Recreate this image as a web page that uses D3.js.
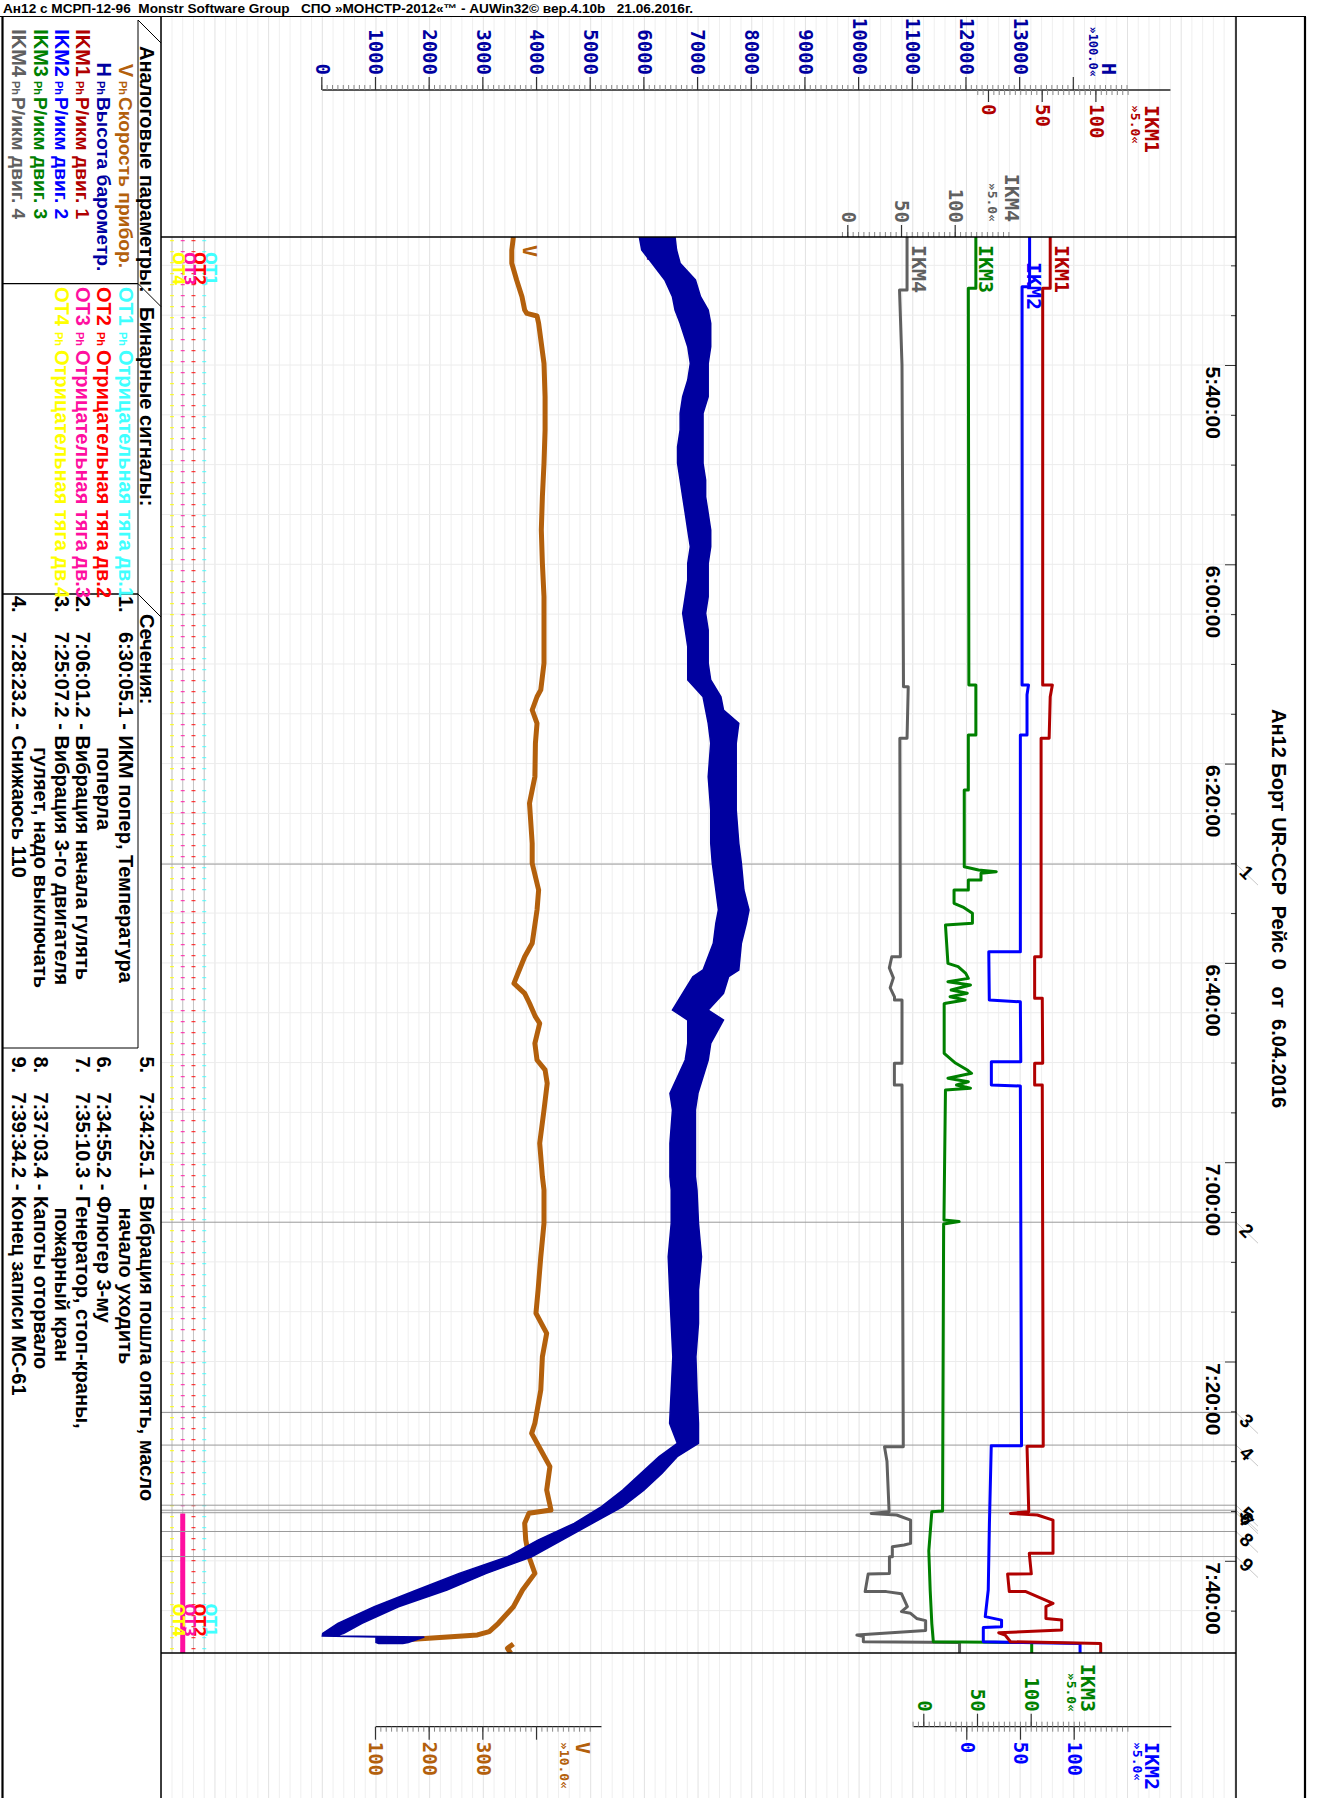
<!DOCTYPE html>
<html><head><meta charset="utf-8">
<script src="https://cdn.jsdelivr.net/npm/d3@7"></script>
<style>body{margin:0;background:#fff} svg{display:block} text{white-space:pre}</style>
</head><body><svg id="c" width="1319" height="1798"></svg>
<script>
// ---------------- DATA ----------------
const headerText = "Ан12 с МСРП-12-96  Monstr Software Group   СПО »МОНСТР-2012«™ - AUWin32© вер.4.10b   21.06.2016г.";
const titleText = "Ан12 Борт UR-CCP  Рейс 0   от  6.04.2016";
const timeWindow = ["5:27:09.3", "7:49:15"];
const timeTickLabels = ["5:40:00","6:00:00","6:20:00","6:40:00","7:00:00","7:20:00","7:40:00"];
const hTicks = [0,1000,2000,3000,4000,5000,6000,7000,8000,9000,10000,11000,12000,13000,14000];
const vTicks = [100,200,300,400];
const ikmTicks = [0,50,100];

// times: minutes since midnight
// H envelope [time, min, max]
const hEnv = [
[327.16,5906,6571],[328.46,5950,6600],[329.79,6143,6666],[331.47,6381,6951],[333.15,6523,7046],[334.48,6571,7189],[335.82,6666,7236],[338.16,6808,7236],[339.83,6856,7189],[341.51,6808,7189],[343.18,6713,7189],[344.85,6666,7093],[346.52,6666,7093],[348.2,6618,7093],[349.86,6618,7093],[351.54,6666,7141],[353.22,6713,7141],[354.88,6761,7189],[356.56,6808,7236],[358.23,6856,7236],[359.9,6808,7189],[361.58,6808,7189],[363.25,6761,7189],[364.92,6713,7141],[366.59,6761,7189],[368.27,6808,7189],[369.93,6808,7189],[371.61,6808,7236],[373.29,7093,7426],[374.62,7141,7474],[375.96,7189,7759],[377.96,7236,7711],[381.31,7189,7711],[384.66,7236,7711],[388.0,7236,7759],[390.0,7265,7807],[392.68,7331,7854],[394.69,7379,7949],[396.03,7331,7900],[398.03,7284,7807],[400.71,7093,7759],[401.38,6903,7569],[403.05,6713,7474],[404.73,6523,7189],[405.73,6808,7474],[408.07,6808,7236],[409.74,6761,7189],[411.42,6618,7093],[413.09,6476,6998],[414.76,6523,6951],[418.1,6476,6951],[421.45,6476,6951],[422.79,6500,6980],[426.13,6500,7008],[429.48,6444,7064],[432.82,6470,7008],[436.17,6500,7008],[439.52,6530,6960],[442.86,6500,6980],[446.2,6470,7008],[448.21,6613,7008],[449.55,6274,6611],[451.22,5935,6330],[452.9,5596,5991],[454.57,5201,5596],[456.24,4692,5031],[457.92,4016,4467],[459.59,3451,3902],[461.26,2549,3057],[462.93,1759,2323],[464.61,967,1420],[466.27,290,741],[467.28,7,402],[467.55,0,250],[467.65,1000,1900],[468.2,1000,1600],[468.3,1050,1500]
];
// V [time, km/h]
const vSeries = [
[327.16,356],[328.46,353],[329.79,353],[331.47,362],[333.15,372],[334.48,377],[334.82,381],[335.08,400],[335.82,403],[339.83,413],[343.18,415],[346.52,415],[349.86,413],[353.22,410],[356.56,408],[359.9,410],[363.25,413],[366.59,413],[369.93,413],[372.6,407],[373.29,400],[374.62,391],[375.96,400],[377.96,397],[381.31,396],[383.98,386],[388.0,391],[390.0,391],[392.68,403],[394.69,400],[398.03,391],[399.38,377],[400.71,367],[402.05,357],[403.05,377],[404.05,386],[405.4,397],[406.06,405],[408.07,396],[409.74,400],[410.74,415],[412.08,419],[414.76,413],[418.1,405],[421.45,410],[422.79,413],[426.13,413],[429.48,407],[432.82,402],[435.16,398],[437.17,418],[439.52,410],[442.86,407],[446.2,396],[447.21,390],[448.88,407],[450.55,424],[452.9,418],[454.9,426],[455.23,385],[456.24,377],[457.92,379],[459.59,385],[461.26,396],[462.93,373],[464.61,356],[466.27,328],[467.1,311],[467.44,289],[467.77,198],[468.1,108],[468.2,null],[468.34,356],[468.78,345],[469.27,351]
];
const ikm1 = [
[327.16,57],[332.3,57],[332.3,50],[372.11,50],[372.11,59],[373.29,57],[377.46,56],[377.46,48.5],[399.38,48.5],[399.38,42.5],[403.55,42.5],[403.55,49.6],[410.07,50],[410.07,42.5],[412.25,42.5],[412.25,49.6],[448.5,50.5],[448.5,35.4],[455.07,37],[455.24,20],[455.4,45],[455.91,59.6],[459.25,59.6],[459.25,37.5],[461.3,39.4],[461.32,17.3],[463.09,18.9],[463.09,34.3],[464.27,59.6],[464.6,53],[465.78,53],[465.95,67.7],[466.95,67.7],[467.22,9],[467.45,15],[468.12,20],[468.29,104],[469.29,104]
];
const ikm2 = [
[327.16,58],[332.14,58],[332.14,51],[372.11,51],[372.11,57],[373.1,55.6],[377.13,55.6],[377.13,49.4],[398.87,49.4],[398.87,20],[403.72,20.5],[403.9,49.4],[409.91,49.8],[409.91,22.4],[412.25,22.4],[412.35,49.4],[448.45,50.5],[448.45,22.3],[456.24,20.6],[462.93,19.5],[465.6,16.7],[465.95,31.9],[466.62,31.9],[466.7,14.9],[468.12,14.9],[468.2,51],[468.29,105],[469.29,105]
];
const ikm3 = [
[327.16,48],[332.3,48],[332.3,41],[372.11,41.5],[372.11,48],[377.13,48],[377.13,41],[382.65,41],[382.65,37.2],[390.35,37.2],[390.68,50.5],[390.85,67],[391.0,52.8],[391.68,52.8],[391.68,41],[392.68,41],[392.68,27.7],[394.02,27.7],[394.4,36],[395.02,44.8],[396.03,44.8],[396.2,19.7],[400.04,22],[400.38,31.5],[401.05,38.6],[401.55,41],[401.88,22],[402.22,43],[402.72,25],[403.05,40],[403.39,24],[403.72,38],[404.05,20],[404.1,18.5],[409.07,18.5],[410.05,29],[410.75,40],[411.08,44],[411.58,22],[411.92,41],[412.25,30],[412.58,43],[412.75,19.7],[425.8,18.3],[425.95,32.4],[426.2,18],[455.0,17],[455.07,7],[459.0,4.2],[463.0,5.5],[466.3,7],[468.12,8.4],[468.2,100],[469.29,100]
];
const ikm4 = [
[327.16,54.7],[332.47,54.7],[332.47,47.7],[340,50],[372.28,51.4],[372.28,55.8],[377.46,54.7],[377.46,48],[399.38,48.5],[399.38,40.5],[400.5,38.2],[401.5,42],[402.5,39],[403.4,43],[403.72,43],[403.72,50],[410.07,50],[410.07,42.9],[412.25,42.9],[412.25,50],[448.55,51.2],[448.55,33.7],[450.0,36],[455.07,38],[455.24,21.3],[455.4,45],[455.91,58],[458.25,58],[458.41,52],[458.58,41],[459.59,41],[459.59,38.3],[461.26,38.3],[461.32,18.5],[463.09,15.7],[463.09,35.4],[463.3,49.5],[464.6,55],[465.1,49.5],[465.27,58],[465.78,63.6],[466.0,72],[467.0,72],[467.45,8],[467.6,14],[468.12,14],[468.2,103.6],[469.29,103.6]
];
// binary signals: intervals where signal = 1
const otNames = ["OT1","OT2","OT3","OT4"];
const otOn = [[], [], [[455.24,469.29]], []];
// sections
const sectionTimes = ["6:30:05.1","7:06:01.2","7:25:07.2","7:28:23.2","7:34:25.1","7:34:55.2","7:35:10.3","7:37:03.4","7:39:34.2"];
const sectionNotes = [
 ["ИКМ попер, Температура","поперла"],["Вибрация начала гулять"],["Вибрация 3-го двигателя","гуляет, надо выключать"],["Снижаюсь 110"],
 ["Вибрация пошла опять, масло","начало уходить"],["Флюгер 3-му"],["Генератор, стоп-краны,","пожарный кран"],["Капоты оторвало"],["Конец записи МС-61"]];
const analogNames = ["V","H","IKM1","IKM2","IKM3","IKM4"];
const analogDesc = ["Скорость прибор.","Высота барометр.","Р/икм двиг. 1","Р/икм двиг. 2","Р/икм двиг. 3","Р/икм двиг. 4"];
const binaryDesc = ["Отрицательная тяга дв.1","Отрицательная тяга дв.2","Отрицательная тяга дв.3","Отрицательная тяга дв.4"];

// ---------------- STYLE ----------------
const C = {V:"#b3600c",H:"#0000a0",IKM1:"#b00000",IKM2:"#0000ff",IKM3:"#008000",IKM4:"#606060",
  OT1:"#40ffff",OT2:"#ff0000",OT3:"#ff0fa0",OT4:"#ffff00"};
const MONO = "'DejaVu Sans Mono', monospace";
const SANS = "'Liberation Sans', Arial, sans-serif";

const parseT = s => { const p = s.split(":").map(Number); return p[0]*60 + p[1] + (p[2]||0)/60; };

// ---------------- LAYOUT (landscape, rotated into portrait) ----------------
const LW = 1781;
const plot = {x0:220, x1:1636, y0:83, y1:1158};
const x = d3.scaleLinear().domain(timeWindow.map(parseT)).range([plot.x0, plot.x1]);
const hY = d3.scaleLinear().domain([0,1000]).range([996.7, 943.02]);
const vY = d3.scaleLinear().domain([0,100]).range([996.7, 943.02]);
const ikmUnit = 1.074;
const mkIkm = y0 => d3.scaleLinear().domain([0,50]).range([y0, y0 - 50*ikmUnit]);
const Y = {IKM1: mkIkm(330), IKM2: mkIkm(351.7), IKM3: mkIkm(394.7), IKM4: mkIkm(470.7)};

const svg = d3.select("#c");
svg.append("rect").attr("width",1319).attr("height",1798).attr("fill","#fff");
svg.append("text").attr("x",3).attr("y",13).attr("font-family",SANS).attr("font-weight","bold")
  .attr("font-size",12.5).attr("textLength",690).attr("lengthAdjust","spacingAndGlyphs").text(headerText);
svg.append("line").attr("x1",0).attr("x2",1306).attr("y1",16.5).attr("y2",16.5).attr("stroke","#000").attr("stroke-width",1.2);

const g = svg.append("g").attr("transform","translate(1319,17) rotate(90)");

// grid
const gridVals = d3.range(-3000, 17001, 200).filter(v => hY(v) > plot.y0 && hY(v) < plot.y1);
g.append("g").selectAll("line").data(gridVals).join("line")
  .attr("x1",0).attr("x2",LW).attr("y1",d=>hY(d)).attr("y2",d=>hY(d))
  .attr("stroke", d => d%1000===0 ? "#e2e2e2" : "#efefef").attr("stroke-width",1);
const tGrid = d3.range(330, 470, 5);
g.append("g").selectAll("line").data(tGrid).join("line")
  .attr("x1",d=>x(d)).attr("x2",d=>x(d)).attr("y1",plot.y0).attr("y2",plot.y1)
  .attr("stroke","#ececec");

// clip
g.append("clipPath").attr("id","clp").append("rect")
  .attr("x",plot.x0).attr("y",plot.y0).attr("width",plot.x1-plot.x0).attr("height",plot.y1-plot.y0);

// binary signal baselines
const otY = d3.scalePoint().domain(otNames).range([hY(-2200), hY(-2800)]);
const otG = g.append("g").attr("clip-path","url(#clp)");
otNames.forEach((n,i) => {
  otG.append("line").attr("x1",plot.x0).attr("x2",plot.x1).attr("y1",otY(n)).attr("y2",otY(n))
    .attr("stroke","#c4c4c4").attr("stroke-width",1);
  otG.append("line").attr("x1",plot.x0+3).attr("x2",plot.x1).attr("y1",otY(n)).attr("y2",otY(n))
    .attr("stroke",C[n]).attr("stroke-width",4).attr("stroke-dasharray","1.2 9.8").attr("opacity",0.75);
  otOn[i].forEach(iv => otG.append("line").attr("x1",x(iv[0])).attr("x2",x(iv[1]))
    .attr("y1",otY(n)).attr("y2",otY(n)).attr("stroke",C[n]).attr("stroke-width",5));
});

// sections
const secT = sectionTimes.map(parseT);
const secG = g.append("g");
secG.selectAll("line.s").data(secT).join("line").attr("class","s")
  .attr("x1",d=>x(d)).attr("x2",d=>x(d)).attr("y1",plot.y0-1).attr("y2",plot.y1)
  .attr("stroke","#9a9a9a").attr("stroke-width",1);
secG.selectAll("line.d").data(secT).join("line").attr("class","d")
  .attr("x1",d=>x(d)).attr("x2",d=>x(d)+21).attr("y1",plot.y0).attr("y2",plot.y0-22)
  .attr("stroke","#c8c8c8").attr("stroke-width",1);
secG.selectAll("text").data(secT).join("text")
  .attr("transform",d=>`translate(${x(d)+13},${plot.y0-6}) rotate(-45)`)
  .attr("text-anchor","middle").attr("font-family",SANS).attr("font-weight","bold").attr("font-size",19)
  .text((d,i)=>i+1);

// traces
const tr = g.append("g").attr("clip-path","url(#clp)");
tr.append("path").datum(vSeries)
  .attr("d", d3.line().defined(d=>d[1]!=null).x(d=>x(d[0])).y(d=>vY(d[1])))
  .attr("fill","none").attr("stroke",C.V).attr("stroke-width",5).attr("stroke-linejoin","round");
tr.append("path").datum(hEnv)
  .attr("d", d3.area().x(d=>x(d[0])).y0(d=>hY(d[1])).y1(d=>hY(d[2])))
  .attr("fill",C.H).attr("stroke",C.H).attr("stroke-width",1.5);
[["IKM4",ikm4],["IKM3",ikm3],["IKM2",ikm2],["IKM1",ikm1]].forEach(([n,data]) => {
  tr.append("path").datum(data).attr("d", d3.line().x(d=>x(d[0])).y(d=>Y[n](d[1])))
    .attr("fill","none").attr("stroke",C[n]).attr("stroke-width",3).attr("stroke-linejoin","round");
});

// trace labels
const lab = (txt, col, lx, ly, size, fam, anchor) => g.append("text").attr("x",lx).attr("y",ly)
  .attr("fill",col).attr("font-family",fam||MONO).attr("font-weight","bold").attr("font-size",size||20)
  .attr("text-anchor",anchor||"start").text(txt);
lab("IKM1", C.IKM1, 228, Y.IKM1(ikm1[0][1]) - 5);
lab("IKM2", C.IKM2, 245, Y.IKM2(ikm2[0][1]) + 3);
lab("IKM3", C.IKM3, 228, Y.IKM3(ikm3[0][1]) - 3);
lab("IKM4", C.IKM4, 228, Y.IKM4(ikm4[0][1]) - 5);
lab("V", C.V, 228, vY(vSeries[0][1]) - 10);
lab("H", C.H, 232, hY(hEnv[0][1]) - 8);
otNames.forEach(n => {
  lab(n, C[n], plot.x0+15, otY(n)-1, 15, "'DejaVu Sans', sans-serif");
  lab(n, C[n], plot.x1-16, otY(n)-1, 15, "'DejaVu Sans', sans-serif", "end");
});

// ---------------- AXES ----------------
function styleAxis(sel, col, size) {
  sel.select(".domain").remove();
  sel.selectAll(".tick line").attr("stroke","#333").attr("stroke-width",1.2);
  sel.selectAll(".tick text").attr("fill",col).attr("font-family",MONO).attr("font-weight","bold").attr("font-size",size||19);
}
function axisPair(orient, scale, xpos, major, minor, col, fmt, majorSize) {
  const mk = orient === "left" ? d3.axisLeft : d3.axisRight;
  g.append("g").attr("transform",`translate(${xpos},0)`)
    .call(mk(scale).tickValues(minor).tickSize(5).tickFormat(""))
    .call(s => styleAxis(s, col)).call(s=>s.selectAll(".tick line").attr("stroke","#888").attr("stroke-width",1));
  g.append("g").attr("transform",`translate(${xpos},0)`)
    .call(mk(scale).tickValues(major).tickSize(majorSize||12).tickPadding(2).tickFormat(fmt||(d=>d)))
    .call(s => styleAxis(s, col));
}
// time axis
const tMajor = timeTickLabels.map(parseT);
const tMinor = d3.range(330, 470, 5).filter(t => !tMajor.includes(t));
g.append("g").attr("transform",`translate(0,${plot.y0})`)
  .call(d3.axisBottom(x).tickValues(tMinor).tickSize(5).tickFormat(""))
  .call(s=>{s.select(".domain").remove(); s.selectAll(".tick line").attr("stroke","#333");});
g.append("g").attr("transform",`translate(0,${plot.y0})`)
  .call(d3.axisBottom(x).tickValues(tMajor).tickSize(11).tickPadding(4).tickFormat((d,i)=>timeTickLabels[i]))
  .call(s=>{s.select(".domain").remove(); s.selectAll(".tick line").attr("stroke","#333");
    s.selectAll(".tick text").attr("text-anchor","start").attr("x",1).attr("fill","#000")
     .attr("font-family",SANS).attr("font-weight","bold").attr("font-size",21);});

// H + IKM1 axis (top-left in portrait)
const axTop = 73;
g.append("line").attr("x1",axTop).attr("x2",axTop).attr("y1",hY(0)).attr("y2",hY(15800)).attr("stroke","#222").attr("stroke-width",1.3);
axisPair("left", hY, axTop, hTicks, d3.range(0,15001,100), C.H, d => d===14000 ? "" : d, 13);
axisPair("right", Y.IKM1, axTop, ikmTicks, d3.range(-10,131,5), C.IKM1, null, 12);
lab("H", C.H, 58, hY(14650)+7, 20, MONO, "end");
lab("»100.0«", C.H, 60, hY(14357)+4, 12, MONO, "end");
lab("IKM1", C.IKM1, 88, Y.IKM1(151.8)+7, 20);
lab("»5.0«", C.IKM1, 88, Y.IKM1(136)+4.5, 13);
// IKM4 axis on plot top edge
axisPair("left", Y.IKM4, plot.x0, ikmTicks, d3.range(-5,151,5), C.IKM4, null, 12);
lab("IKM4", C.IKM4, 205, Y.IKM4(152.4)+7, 20, MONO, "end");
lab("»5.0«", C.IKM4, 205, Y.IKM4(133.8)+4.5, 13, MONO, "end");
// bottom axes (V, IKM3, IKM2)
const axBot = 1709.7;
g.append("line").attr("x1",axBot).attr("x2",axBot).attr("y1",vY(100)).attr("y2",vY(520)).attr("stroke","#222").attr("stroke-width",1.3);
g.append("line").attr("x1",axBot).attr("x2",axBot).attr("y1",Y.IKM3(-10)).attr("y2",Y.IKM2(190)).attr("stroke","#222").attr("stroke-width",1.3);
axisPair("right", vY, axBot, vTicks, d3.range(100,501,10), C.V, d => d===400 ? "" : d, 13);
axisPair("left", Y.IKM3, axBot, ikmTicks, d3.range(-10,151,5), C.IKM3, null, 13);
axisPair("right", Y.IKM2, axBot, ikmTicks, d3.range(-10,151,5), C.IKM2, null, 13);
lab("V", C.V, 1725, vY(485.5)+7, 20);
lab("»10.0«", C.V, 1725, vY(452)+4.5, 13);
lab("IKM3", C.IKM3, 1695, Y.IKM3(152.4)+7, 20, MONO, "end");
lab("»5.0«", C.IKM3, 1695, Y.IKM3(136.6)+4.5, 13, MONO, "end");
lab("IKM2", C.IKM2, 1725, Y.IKM2(172)+7, 20);
lab("»5.0«", C.IKM2, 1725, Y.IKM2(158)+4.5, 13);

// title
g.append("text").attr("x",692).attr("y",47).attr("font-family",SANS).attr("font-weight","bold")
  .attr("font-size",20).text(titleText);

// ---------------- FRAME ----------------
const fl = (x1,y1,x2,y2,w,c) => g.append("line").attr("x1",x1).attr("y1",y1).attr("x2",x2).attr("y2",y2)
  .attr("stroke",c||"#000").attr("stroke-width",w||1.3);
fl(0,14,LW,14,2.2);          // outer right (portrait)
fl(0,1316.5,LW,1316.5,2.2);  // outer left
fl(0,plot.y0,LW,plot.y0,1.5);   // time axis line
fl(0,plot.y1,LW,plot.y1,1.5);   // legend boundary
fl(plot.x0,plot.y0,plot.x0,plot.y1,1.3);
fl(plot.x1,plot.y0,plot.x1,plot.y1,1.5);

// ---------------- LEGEND ----------------
const rowC = k => 1172 + k*21.3;   // row centre
const hdrY = 1181;
const boxes = [3, 266.6, 577];
fl(3, hdrY, 1031, hdrY, 1);
boxes.forEach(bx => { fl(bx, hdrY, bx+23, plot.y1, 1); if (bx>3) fl(bx, hdrY, bx, 1316.5, 1.3); });
fl(1031, hdrY, 1031, 1316.5, 1);
const lt = (txt, lx, k, col, size, anchor) => g.append("text").attr("x",lx).attr("y",rowC(k)+7)
  .attr("fill",col||"#000").attr("font-family",SANS).attr("font-weight","bold").attr("font-size",size||20)
  .attr("text-anchor",anchor||"start").text(txt);
lt("Аналоговые параметры:", 29, 0);
lt("Бинарные сигналы:", 290, 0);
lt("Сечения:", 597, 0);
analogNames.forEach((n,i) => {
  lt(n, 60, i+1, C[n], 20, "end");
  lt("Рh", 64, i+1, C[n], 11);
  lt(analogDesc[i], 80, i+1, C[n], 19.2);
});
otNames.forEach((n,i) => {
  lt(n, 270, i+1, C[n]);
  lt("Рh", 315, i+1, C[n], 11);
  lt(binaryDesc[i], 333, i+1, C[n]);
});
// section list: entries 1-4 in first column, 5-9 in second
const cols = [{x:579, row:1}, {x:1039.5, row:0}];
let ci = 0, row = cols[0].row;
sectionTimes.forEach((s,i) => {
  if (i === 4) { ci = 1; row = cols[1].row; }
  const cx = cols[ci].x;
  lt((i+1)+".", cx, row);
  lt(s + " - " + sectionNotes[i][0], cx + 36, row);
  row++;
  for (let j=1; j<sectionNotes[i].length; j++) { lt(sectionNotes[i][j], cx + 36 + 115, row); row++; }
});
</script></body></html>
